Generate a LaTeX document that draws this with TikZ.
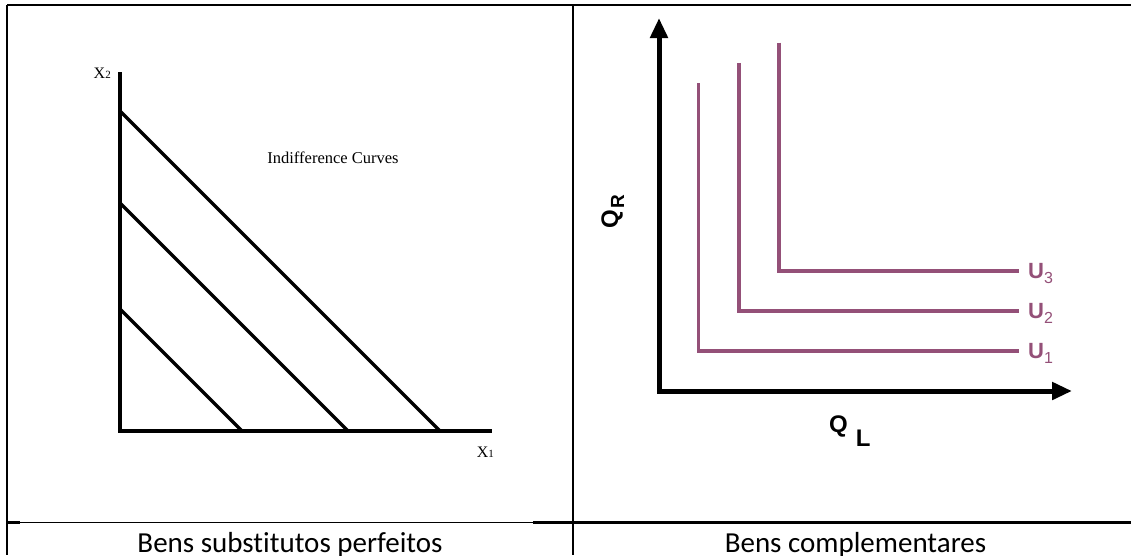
\documentclass[tikz,border=0pt]{standalone}
\usepackage{fontspec}
\setmainfont{Liberation Serif}
\setsansfont{Liberation Sans}
\newfontfamily\calibri[Ligatures={NoCommon}]{Carlito}
\usetikzlibrary{arrows.meta}
\definecolor{curvecol}{RGB}{148,80,120}
\begin{document}
\begin{tikzpicture}[x=1pt,y=-1pt,>={Triangle[length=20pt,width=17pt]}, line join=miter, line cap=butt]
	\useasboundingbox (0,0) rectangle (1131,555);
	\draw[line width=2pt] (7,5)--(1131,5) (7,5)--(7,555) (573,5)--(573,555);
	\draw[line width=0.8pt] (7,522.7)--(573,522.7);
	\draw[line width=2.5pt] (7,522.7)--(20,522.7) (533,522.7)--(1131,522.7);
	\coordinate (O1) at (120,431);
	\draw[line width=4.5pt] (120,72)--(O1)--(492,431);
	\foreach \d in {122,228,320}
	{\draw[line width=3.5pt] (120,431-\d)--(120+\d,431);}
	\node (x2) at (111,78) [anchor=base east, inner sep=0pt, font=\fontsize{16}{16}\selectfont]{X\fontsize{11}{11}\selectfont 2};
	\node (x1) at (494,457) [anchor=base east, inner sep=0pt, font=\fontsize{16}{16}\selectfont]{X\fontsize{11}{11}\selectfont 1};
	\node (ic) at (333,163) [anchor=base, inner sep=0pt, font=\fontsize{16.5}{16.5}\selectfont]{Indifference Curves};
	\coordinate (O2) at (659,391);
	\draw[line width=5pt,<->] (659,18)--(O2)--(1072,391);
	\foreach \i in {1,2,3}
	{\draw[curvecol, line width=3.5pt] (658+40.4*\i,103.5-20.3*\i)--(658+40.4*\i,390.8-40*\i)--(1019,390.8-40*\i);
		\node (u\i) at (1028,398-40*\i) [anchor=base west, inner sep=0pt, text=curvecol, font=\sffamily\bfseries\fontsize{22}{22}\selectfont]{U\raisebox{-5pt}{\mdseries\fontsize{16}{16}\selectfont\i}};}
	\node (qr) at (618,229) [rotate=90, anchor=base west, inner sep=0pt, font=\sffamily\bfseries\fontsize{24}{24}\selectfont]{Q\hspace{2pt}\raisebox{-6pt}{\fontsize{19}{19}\selectfont R}};
	\node (ql) at (829,432) [anchor=base west, inner sep=0pt, font=\sffamily\bfseries\fontsize{24}{24}\selectfont]{Q\hspace{8pt}\raisebox{-14pt}{L}};
	\node (t1) at (290,552.5) [anchor=base, inner sep=0pt, font=\calibri\fontsize{29}{29}\selectfont]{Bens substitutos perfeitos};
	\node (t2) at (855.5,552.5) [anchor=base, inner sep=0pt, font=\calibri\fontsize{29}{29}\selectfont]{Bens complementares};
\end{tikzpicture}
\end{document}
